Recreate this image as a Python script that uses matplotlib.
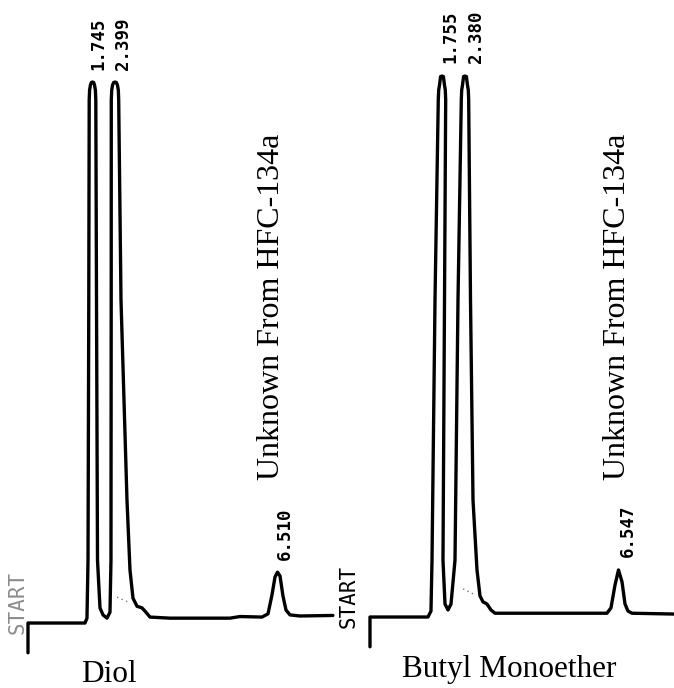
import matplotlib
matplotlib.use("Agg")
import matplotlib.pyplot as plt

# ---------------- data (retention time in min, detector signal in % full scale) -------------
diol_time = [0.000, 0.000, 1.484, 1.536, 1.563, 1.583, 1.594, 1.604, 1.625, 1.648, 1.680,
             1.711, 1.734, 1.755, 1.766, 1.784, 1.810, 1.875, 1.953, 2.057, 2.135, 2.161,
             2.167, 2.169, 2.180, 2.201, 2.229, 2.266, 2.302, 2.331, 2.352, 2.362, 2.422,
             2.578, 2.656, 2.734, 2.839, 2.969, 3.047, 3.177, 3.698, 5.260, 5.520, 6.094,
             6.250, 6.354, 6.432, 6.497, 6.563, 6.640, 6.719, 6.823, 7.080, 7.940]
diol_signal = [-5.5, 0.0, 0.0, 0.9, 11.6, 59.7, 96.7, 98.5, 99.4, 99.9, 100.0,
               99.9, 99.4, 98.5, 96.7, 59.7, 11.6, 2.8, 1.5, 0.9, 2.0, 11.6,
               59.7, 96.7, 98.5, 99.4, 99.9, 100.0, 99.9, 99.4, 98.5, 96.7, 59.7,
               22.7, 9.8, 4.6, 3.1, 2.8, 2.2, 1.1, 0.9, 0.9, 1.2, 1.1,
               1.7, 5.2, 8.5, 9.4, 8.7, 5.0, 2.4, 1.5, 1.3, 1.4]

ether_time = [0.000, 0.000, 1.526, 1.605, 1.632, 1.711, 1.797, 1.808, 1.829, 1.858, 1.895,
              1.932, 1.961, 1.982, 1.992, 1.961, 1.921, 1.974, 2.053, 2.132, 2.237, 2.316,
              2.403, 2.413, 2.434, 2.463, 2.500, 2.537, 2.566, 2.587, 2.597, 2.645, 2.711,
              2.816, 2.895, 2.974, 3.079, 3.184, 3.289, 3.947, 6.237, 6.342, 6.447, 6.539,
              6.632, 6.711, 6.789, 6.895, 8.000]
ether_signal = [-5.5, 0.0, 0.0, 1.1, 10.5, 58.6, 95.6, 97.4, 98.3, 99.9, 100.0,
                99.9, 98.3, 97.4, 95.6, 58.6, 10.5, 2.4, 1.3, 2.4, 10.5, 58.6,
                95.6, 97.4, 98.3, 99.9, 100.0, 99.9, 98.3, 97.4, 95.6, 58.6, 21.6,
                8.7, 3.9, 2.8, 2.4, 1.3, 0.7, 0.7, 0.7, 1.7, 5.9, 8.7,
                6.5, 2.4, 1.1, 0.7, 0.55]

diol_rt_labels = ["1.745", "2.399", "6.510"]
diol_rt_pos = [1.823, 2.474, 6.693]
diol_rt_base = [102.2, 102.2, 11.6]

ether_rt_labels = ["1.755", "2.380", "6.547"]
ether_rt_pos = [2.105, 2.789, 6.789]
ether_rt_base = [102.4, 102.4, 11.1]

panel_names = ["Diol", "Butyl Monoether"]
annotation = "Unknown From HFC-134a"

# ---------------- figure ----------------
fig = plt.figure(figsize=(6.74, 6.88), dpi=100)
fig.patch.set_facecolor("white")
ax1 = fig.add_axes([0.0, 0.0, 0.5, 1.0])
ax2 = fig.add_axes([0.5, 0.0, 0.5, 1.0])

ax1.set_xlim(-0.729, 8.047)
ax1.set_ylim(-12.01, 115.16)
ax2.set_xlim(-0.868, 8.0)
ax2.set_ylim(-13.12, 114.05)

serif = ["Liberation Serif", "DejaVu Serif"]
mono = ["DejaVu Sans Mono"]

def draw(ax, t, s, labels, pos, base, name, name_x, name_y, ann_x, ann_y, start_x, start_alpha,
         dots_t, dots_s):
    ax.axis("off")
    ax.plot(t, s, color="black", lw=2.4, solid_joinstyle="round", solid_capstyle="round",
            clip_on=False)
    ax.plot(dots_t, dots_s, color="#777777", lw=1.0, ls=(0, (1, 2.5)), clip_on=False)
    for lab, x, b in zip(labels, pos, base):
        ax.text(x, b, lab, rotation=90, ha="center", va="bottom", family=mono,
                fontsize=12.5, fontweight="bold", color="black")
    ax.text(start_x, 3.8, "START", rotation=90, ha="center", va="center", family=mono,
            fontsize=15, color="black", alpha=start_alpha)
    ax.text(ann_x, ann_y, annotation, rotation=90, ha="center", va="center", family=serif,
            fontsize=23, color="black")
    ax.text(name_x, name_y, name, ha="center", va="baseline", family=serif, fontsize=22.5,
            color="black")

draw(ax1, diol_time, diol_signal, diol_rt_labels, diol_rt_pos, diol_rt_base,
     panel_names[0], 2.10, -10.9, 6.354, 58.4, -0.26, 0.45,
     [2.32, 2.66], [4.8, 3.7])
draw(ax2, ether_time, ether_signal, ether_rt_labels, ether_rt_pos, ether_rt_base,
     panel_names[1], 3.66, -11.1, 6.526, 57.3, -0.553, 1.0,
     [2.45, 2.71], [5.2, 4.3])

fig.savefig("out.png", dpi=100, facecolor="white")
